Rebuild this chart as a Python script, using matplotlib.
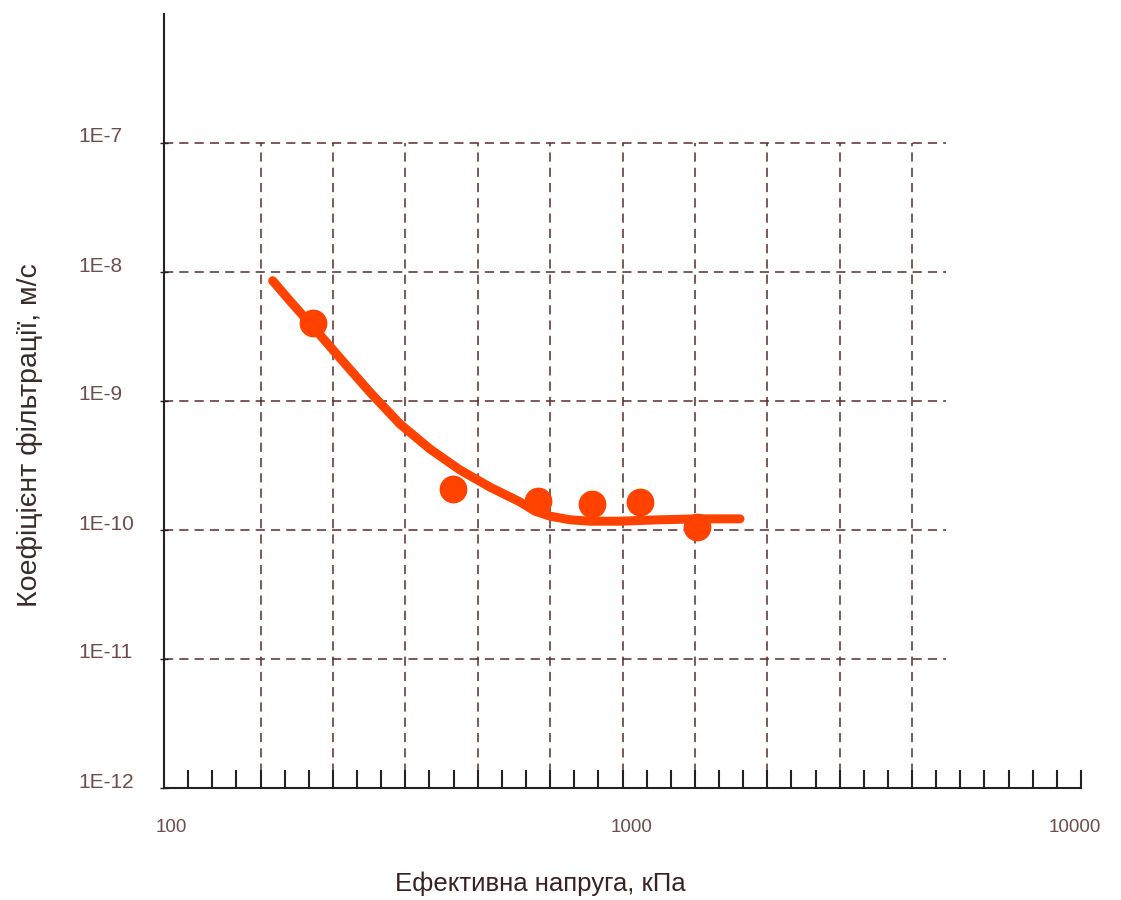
import numpy as np
import matplotlib
matplotlib.use("Agg")
import matplotlib.pyplot as plt
from matplotlib import transforms

plt.rcParams["font.family"] = ["Liberation Sans", "DejaVu Sans"]

# Measured points: effective stress (kPa) vs. permeability coefficient (m/s)
stress_pts = [211, 427, 654, 858, 1091, 1454]
k_pts = [4.0e-9, 2.08e-10, 1.68e-10, 1.59e-10, 1.65e-10, 1.05e-10]

# Fitted trend curve
curve_stress = [172.6, 188.3, 211.4, 242.1, 281.3, 327.1, 380.4, 442.2, 514.1,
                597.6, 644.4, 695.0, 768.3, 849.3, 987.4, 1207, 1476, 1804]
curve_k = [8.56e-9, 5.96e-9, 3.75e-9, 2.15e-9, 1.17e-9, 6.63e-10, 4.24e-10,
           2.92e-10, 2.15e-10, 1.65e-10, 1.40e-10, 1.28e-10, 1.20e-10,
           1.17e-10, 1.17e-10, 1.20e-10, 1.22e-10, 1.22e-10]

x_tick_values = [100, 1000, 10000]
x_tick_labels = ["100", "1000", "10000"]
y_tick_values = [1e-7, 1e-8, 1e-9, 1e-10, 1e-11, 1e-12]
y_tick_labels = ["1E-7", "1E-8", "1E-9", "1E-10", "1E-11", "1E-12"]

x_title = "Ефективна напруга, кПа"
y_title = "Коефіцієнт фільтрації, м/с"

ORANGE = "#ff4200"
GRID = "#5a2b2b"
LABEL = "#6e4c4c"

fig = plt.figure(figsize=(11.21, 9.0), dpi=100)
ax = fig.add_axes([164 / 1121, 112 / 900, 917 / 1121, 774 / 900])
ax.set_xscale("log")
ax.set_yscale("log")
ax.set_xlim(100, 10000)
ax.set_ylim(1e-12, 1e-6)

# Scale ticks: 19 evenly spaced marks per decade along the bottom axis
steps = np.arange(1, 39)
scale_ticks = 10 ** (2 + steps / 19)
ax.set_xticks(scale_ticks)
ax.set_xticklabels([])
ax.xaxis.set_minor_locator(matplotlib.ticker.NullLocator())
ax.tick_params(axis="x", direction="in", length=13, width=1.5, color="#222222")

ax.set_yticks(y_tick_values)
ax.set_yticklabels([])
ax.yaxis.set_minor_locator(matplotlib.ticker.NullLocator())
ax.tick_params(axis="y", direction="inout", length=6, width=1.0, color="#222222")

for side in ("top", "right"):
    ax.spines[side].set_visible(False)
for side in ("left", "bottom"):
    ax.spines[side].set_linewidth(1.5)
    ax.spines[side].set_color("#222222")

# Dashed reference grid
grid_x = 10 ** (2 + np.arange(4, 32, 3) / 19)
ax.vlines(grid_x, 1e-12, 1e-7, colors=GRID, linewidth=1.1,
          linestyles=(0, (6, 4)), zorder=1)
ax.hlines(y_tick_values[:-1], 100, 10 ** (2 + 32.4 / 19), colors=GRID,
          linewidth=1.1, linestyles=(0, (6, 4)), zorder=1)

# Trend curve and measured points
ax.plot(curve_stress, curve_k, color=ORANGE, linewidth=6.5,
        solid_capstyle="round", solid_joinstyle="round", zorder=3)
ax.plot(stress_pts, k_pts, "o", color=ORANGE, markersize=20,
        markeredgewidth=0, zorder=4)

# Tick labels
ylab_tr = transforms.blended_transform_factory(ax.transAxes, ax.transData)
ylab_tr = ylab_tr + transforms.ScaledTranslation(0, 6 / 100, fig.dpi_scale_trans)
for v, s in zip(y_tick_values, y_tick_labels):
    ax.text(-86 / 917, v, s, transform=ylab_tr, ha="left", va="center",
            fontsize=15, color=LABEL, clip_on=False)

# small horizontal nudges (pixels) for the decade labels under the axis
x_nudge = [7, 9, -6]
for v, s, dx in zip(x_tick_values, x_tick_labels, x_nudge):
    tr = transforms.blended_transform_factory(ax.transData, ax.transAxes) + \
        transforms.ScaledTranslation(dx / 100, 0, fig.dpi_scale_trans)
    ax.text(v, -40 / 774, s, transform=tr, ha="center", va="center",
            fontsize=13.5, color=LABEL, clip_on=False)

fig.text(540 / 1121, 1 - 884 / 900, x_title, ha="center", va="center",
         fontsize=18.5, color="#3a2222")
fig.text(30 / 1121, 1 - 435 / 900, y_title, ha="center", va="center",
         rotation=90, fontsize=20.5, color="#3a2a2a")

fig.savefig("out.png", dpi=100)
